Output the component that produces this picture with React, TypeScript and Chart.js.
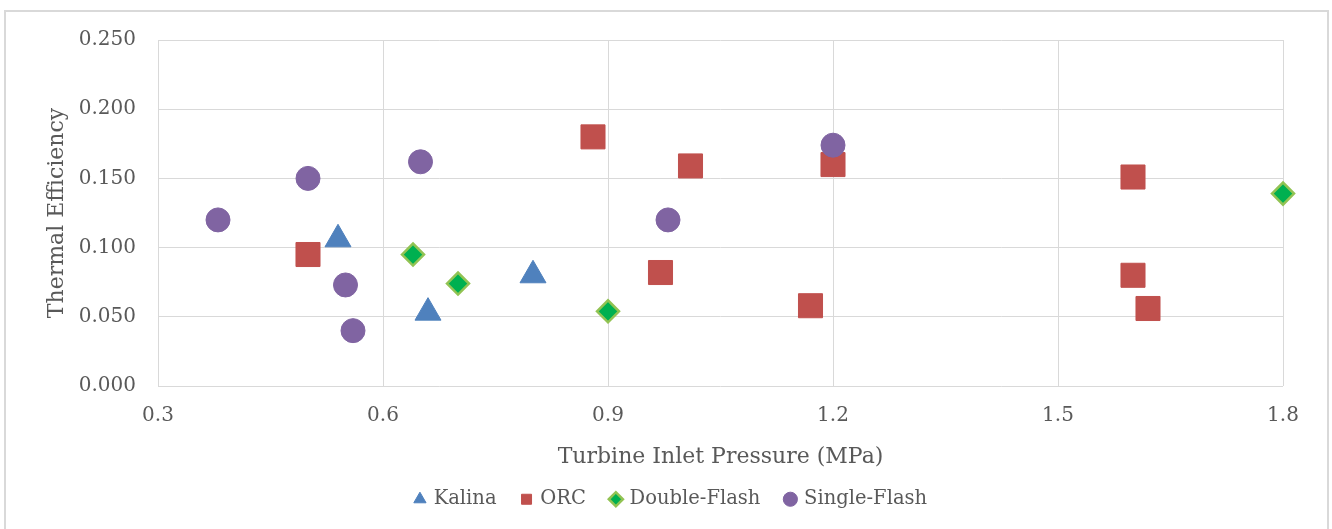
import React, { useEffect, useRef } from "react";
import { Chart, registerables } from "chart.js";

Chart.register(...registerables);

// ---- data ----
const seriesNames = ["Kalina", "ORC", "Double-Flash", "Single-Flash"];

const kalinaX = [0.54, 0.66, 0.8];
const kalinaY = [0.106, 0.053, 0.08];

const orcX = [0.5, 0.88, 1.01, 0.97, 1.2, 1.17, 1.6, 1.6, 1.62];
const orcY = [0.095, 0.18, 0.159, 0.082, 0.16, 0.058, 0.151, 0.08, 0.056];

const doubleFlashX = [0.64, 0.7, 0.9, 1.8];
const doubleFlashY = [0.095, 0.074, 0.054, 0.139];

const singleFlashX = [0.38, 0.5, 0.65, 0.55, 0.56, 0.98, 1.2];
const singleFlashY = [0.12, 0.15, 0.162, 0.073, 0.04, 0.12, 0.174];

const xTicks = [0.3, 0.6, 0.9, 1.2, 1.5, 1.8];
const yTicks = [0, 0.05, 0.1, 0.15, 0.2, 0.25];

const xTitle = "Turbine Inlet Pressure (MPa)";
const yTitle = "Thermal Efficiency";

// ---- styling ----
const W = 1332;
const H = 529;
const FONT = "'DejaVu Serif', 'Liberation Serif', serif";
const TEXT = "#595959";
const GRID = "#d9d9d9";
const PLOT_LEFT = 158;
const PLOT_BOTTOM = 386;
const PAD_LEFT = 60;
const PAD_BOTTOM = 10;

const pts = (xs: number[], ys: number[]) => xs.map((x, i) => ({ x, y: ys[i] }));

const framePlugin = {
  id: "frame",
  beforeDraw(chart: any) {
    const ctx = chart.ctx;
    ctx.save();
    ctx.fillStyle = "#ffffff";
    ctx.fillRect(0, 0, chart.width, chart.height);
    ctx.strokeStyle = GRID;
    ctx.lineWidth = 2;
    ctx.strokeRect(5, 11, 1323, 540);
    ctx.restore();
  },
};

export default function App() {
  const ref = useRef<HTMLCanvasElement | null>(null);

  useEffect(() => {
    if (!ref.current) return;
    const chart = new Chart(ref.current, {
      type: "scatter",
      data: {
        datasets: [
          {
            label: seriesNames[3],
            data: pts(singleFlashX, singleFlashY),
            pointStyle: "circle",
            pointRadius: 12,
            backgroundColor: "#8064a2",
            borderColor: "#8064a2",
            borderWidth: 1,
            clip: false,
          },
          {
            label: seriesNames[2],
            data: pts(doubleFlashX, doubleFlashY),
            pointStyle: "rectRot",
            pointRadius: 11,
            backgroundColor: "#00b050",
            borderColor: "#92c353",
            borderWidth: 2.5,
            clip: false,
          },
          {
            label: seriesNames[1],
            data: pts(orcX, orcY),
            pointStyle: "rect",
            pointRadius: 17,
            backgroundColor: "#c0504d",
            borderColor: "#c0504d",
            borderWidth: 1,
            clip: false,
          },
          {
            label: seriesNames[0],
            data: pts(kalinaX, kalinaY),
            pointStyle: "triangle",
            pointRadius: 15,
            backgroundColor: "#4f81bd",
            borderColor: "#4f81bd",
            borderWidth: 1,
            clip: false,
          },
        ],
      },
      options: {
        responsive: false,
        animation: false,
        events: [],
        layout: { padding: { top: 40, right: 49, bottom: PAD_BOTTOM, left: PAD_LEFT } },
        plugins: {
          tooltip: { enabled: false },
          legend: {
            display: true,
            position: "bottom",
            reverse: true,
            labels: {
              usePointStyle: true,
              boxHeight: 10,
              boxWidth: 8,
              padding: 26,
              color: TEXT,
              font: { family: FONT, size: 19.5 },
            },
          },
        },
        scales: {
          x: {
            type: "linear",
            min: 0.3,
            max: 1.8,
            afterBuildTicks: (s: any) => {
              s.ticks = xTicks.map((v) => ({ value: v }));
            },
            afterFit: (s: any) => {
              const lh = s.chart.legend ? s.chart.legend.height : 0;
              s.height = H - PAD_BOTTOM - lh - PLOT_BOTTOM;
            },
            ticks: {
              color: TEXT,
              padding: 18,
              font: { family: FONT, size: 20 },
              callback: (v: any) => Number(v).toFixed(1),
            },
            grid: { color: GRID, lineWidth: 1, drawTicks: false },
            border: { display: false },
            title: {
              display: true,
              text: xTitle,
              color: TEXT,
              font: { family: FONT, size: 22 },
              padding: { top: 0, bottom: -7 },
            },
          },
          y: {
            type: "linear",
            min: 0,
            max: 0.25,
            afterBuildTicks: (s: any) => {
              s.ticks = yTicks.map((v) => ({ value: v }));
            },
            afterFit: (s: any) => {
              s.width = PLOT_LEFT - PAD_LEFT;
            },
            ticks: {
              color: TEXT,
              padding: 22,
              font: { family: FONT, size: 20 },
              callback: (v: any) => Number(v).toFixed(3),
            },
            grid: { color: GRID, lineWidth: 1, drawTicks: false },
            border: { display: false },
            title: {
              display: true,
              text: yTitle,
              color: TEXT,
              font: { family: FONT, size: 22 },
              padding: { top: -16, bottom: 0 },
            },
          },
        },
      },
      plugins: [framePlugin],
    } as any);
    return () => chart.destroy();
  }, []);

  return (
    <div style={{ position: "absolute", left: 0, top: 0, width: W, height: H }}>
      <canvas ref={ref} width={W} height={H} style={{ display: "block", width: W, height: H }} />
    </div>
  );
}
